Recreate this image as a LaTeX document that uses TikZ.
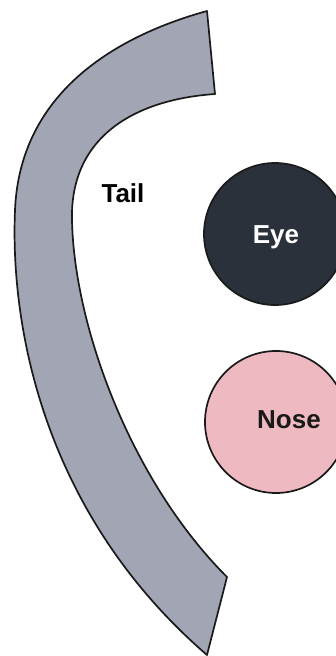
\documentclass[tikz,border=0pt]{standalone}
\usepackage{fontspec}
\setmainfont{Liberation Sans}
\definecolor{tailgray}{HTML}{A1A5B4}
\definecolor{eyedark}{HTML}{2B313B}
\definecolor{nosepink}{HTML}{EFB9C1}
\definecolor{edgedark}{HTML}{1A1A1A}
\begin{document}
\begin{tikzpicture}[x=1pt,y=-1pt,
  shapeedge/.style={draw=edgedark, line width=1.7pt, line join=round},
  blob/.style={circle, shapeedge, minimum size=142pt, inner sep=0pt},
  lbl/.style={font=\bfseries\fontsize{26}{30}\selectfont, anchor=base, inner sep=0pt}]
\fill[white] (0,0) rectangle (336,656);
\useasboundingbox (0,0) rectangle (336,656);
\clip (0,0) rectangle (336,656);
% Tail band
\draw[shapeedge, fill=tailgray]
  (207,11) .. controls (120,35) and (20,90) .. (15,210)
  .. controls (10,330) and (45,515) .. (207,655)
  -- (227,577)
  .. controls (130,480) and (74,325) .. (72,220)
  .. controls (70,140) and (130,100) .. (215,94)
  -- cycle;
% Eye and Nose
\node[blob, fill=eyedark] (eye) at (275,234) {};
\node[blob, fill=nosepink] (nose) at (276,422) {};
% Labels
\node[lbl, text=black] (taillabel) at (123,202) {Tail};
\node[lbl, text=white] (eyelabel) at (276,243) {Eye};
\node[lbl, text=black!90] (noselabel) at (289,428) {Nose};
\end{tikzpicture}
\end{document}
